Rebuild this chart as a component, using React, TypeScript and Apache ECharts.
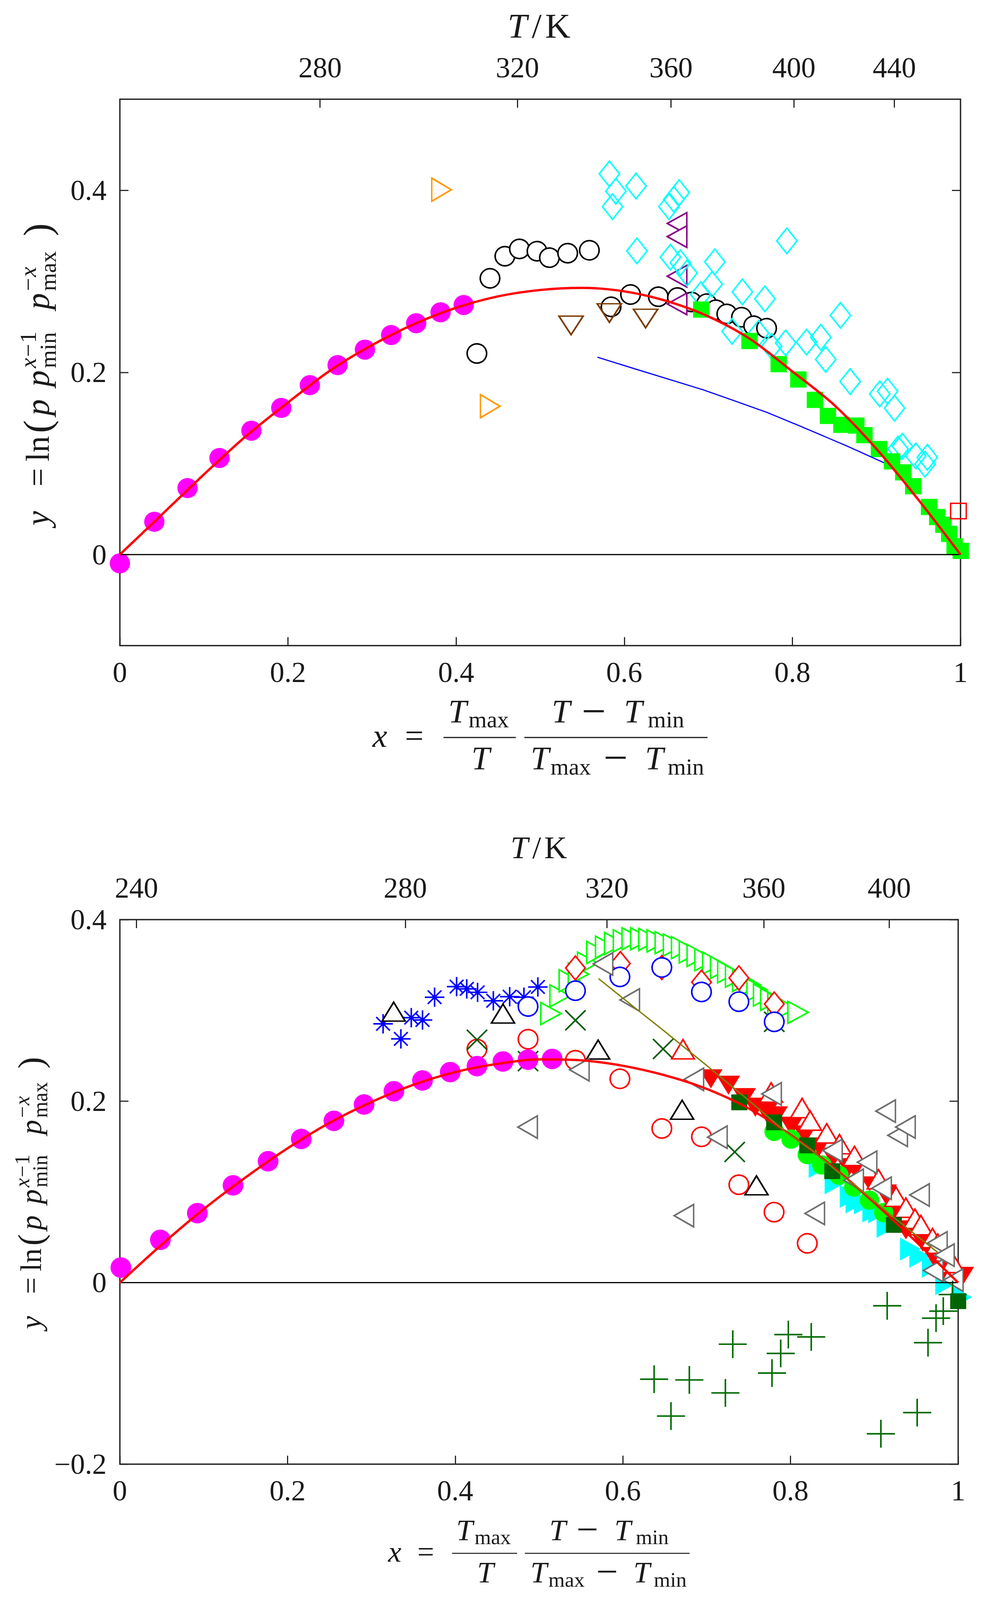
import React, { useEffect, useRef } from 'react';
import * as echarts from 'echarts';

// ---------------- axis ticks ----------------
const X_TICKS = [0, 0.2, 0.4, 0.6, 0.8, 1];
const TOP_Y_TICKS = [0, 0.2, 0.4];
const BOT_Y_TICKS = [-0.2, 0, 0.2, 0.4];
const TOP_T_TICKS = [280, 320, 360, 400, 440];
const BOT_T_TICKS = [240, 280, 320, 360, 400];
const TOP_T_MIN = 248.5;
const TOP_T_MAX = 471;
const BOT_T_MIN = 237.9;
const BOT_T_MAX = 426;

// ---------------- top panel data ----------------
const topCurveX = [0, 0.05, 0.1, 0.15, 0.2, 0.25, 0.3, 0.35, 0.4, 0.45, 0.5, 0.55, 0.6, 0.65, 0.7, 0.75, 0.8, 0.85, 0.9, 0.95, 1];
const topCurveY = [0, 0.044, 0.088, 0.13, 0.167, 0.202, 0.23, 0.253, 0.271, 0.2835, 0.2905, 0.2928, 0.289, 0.2785, 0.2615, 0.2365, 0.201, 0.164, 0.116, 0.06, 0];
const topMagentaX = [0, 0.041, 0.0805, 0.1185, 0.1565, 0.192, 0.226, 0.259, 0.2915, 0.3227, 0.3525, 0.3815, 0.409];
const topMagentaY = [-0.0097, 0.036, 0.073, 0.106, 0.136, 0.161, 0.186, 0.208, 0.225, 0.241, 0.254, 0.266, 0.274];
const topBlackX = [0.4247, 0.4403, 0.458, 0.4753, 0.4962, 0.511, 0.5327, 0.5585, 0.5843, 0.6075, 0.6405, 0.6633, 0.68, 0.698, 0.709, 0.722, 0.7395, 0.754, 0.7693];
const topBlackY = [0.2208, 0.3033, 0.3276, 0.3356, 0.3331, 0.326, 0.3309, 0.3341, 0.272, 0.2855, 0.2831, 0.2822, 0.2773, 0.2755, 0.2688, 0.2642, 0.2606, 0.2512, 0.2485];
const topOrangeX = [0.3826, 0.4405];
const topOrangeY = [0.4006, 0.1629];
const topBrownX = [0.5367, 0.5823, 0.6254];
const topBrownY = [0.2516, 0.2652, 0.2592];
const topPurpleX = [0.6628, 0.6628, 0.6628, 0.6628];
const topPurpleY = [0.3636, 0.3491, 0.3056, 0.2752];
const topCyanX = [0.5823, 0.59, 0.586, 0.614, 0.6532, 0.659, 0.6653, 0.6151, 0.6549, 0.6667, 0.6746, 0.6911, 0.7046, 0.7077, 0.7283, 0.7405, 0.7598, 0.7673, 0.7753, 0.792, 0.7934, 0.8168, 0.8338, 0.8396, 0.8572, 0.8687, 0.9039, 0.9132, 0.9215, 0.9257, 0.9309, 0.9468, 0.9578, 0.9605];
const topCyanY = [0.418, 0.399, 0.382, 0.4046, 0.382, 0.39, 0.3974, 0.3334, 0.3266, 0.3204, 0.3091, 0.2855, 0.2968, 0.3214, 0.2451, 0.2884, 0.243, 0.2808, 0.2286, 0.2324, 0.3444, 0.2333, 0.2385, 0.2143, 0.2627, 0.19, 0.1764, 0.1794, 0.1607, 0.1159, 0.1189, 0.1083, 0.0993, 0.1068];
const topGreenX = [0.6916, 0.749, 0.7837, 0.8071, 0.8268, 0.8423, 0.8583, 0.876, 0.8857, 0.903, 0.9185, 0.9319, 0.9437, 0.9626, 0.9723, 0.9796, 0.9865, 0.993, 1.0003];
const topGreenY = [0.269, 0.2345, 0.2091, 0.1922, 0.1698, 0.1522, 0.1425, 0.1416, 0.1311, 0.1159, 0.1023, 0.0902, 0.075, 0.0523, 0.0411, 0.0327, 0.0227, 0.0091, 0.004];
const topRedSqX = [0.9975];
const topRedSqY = [0.0478];
const topBlueX = [0.568, 0.613, 0.6934, 0.7308, 0.7702, 0.8054, 0.8386, 0.8655, 0.909];
const topBlueY = [0.2167, 0.2038, 0.181, 0.1689, 0.1559, 0.1425, 0.1295, 0.1189, 0.1008];

// ---------------- bottom panel data ----------------
const botCurveX = [0, 0.05, 0.1, 0.15, 0.2, 0.25, 0.3, 0.35, 0.4, 0.45, 0.5, 0.55, 0.6, 0.65, 0.7, 0.75, 0.8, 0.85, 0.9, 0.95, 1];
const botCurveY = [0, 0.042, 0.081, 0.116, 0.148, 0.176, 0.199, 0.218, 0.232, 0.241, 0.246, 0.245, 0.239, 0.2285, 0.2135, 0.192, 0.163, 0.128, 0.088, 0.045, 0];
const botMagentaX = [0.0012, 0.0483, 0.0924, 0.135, 0.1768, 0.2164, 0.2553, 0.2913, 0.3269, 0.361, 0.3941, 0.426, 0.457, 0.4869, 0.5157];
const botMagentaY = [0.0166, 0.0472, 0.0766, 0.1072, 0.1338, 0.1583, 0.1783, 0.1963, 0.2109, 0.2228, 0.232, 0.2386, 0.2437, 0.2457, 0.2465];
const botStarX = [0.314, 0.3352, 0.3476, 0.361, 0.3754, 0.4017, 0.4138, 0.4267, 0.4455, 0.465, 0.482, 0.4986];
const botStarY = [0.2852, 0.2686, 0.292, 0.2894, 0.3145, 0.3262, 0.3237, 0.3199, 0.3106, 0.3151, 0.3145, 0.3258];
const botBlackTriX = [0.3266, 0.457, 0.5705, 0.6707, 0.7594];
const botBlackTriY = [0.2986, 0.2965, 0.2568, 0.1905, 0.1072];
const botRedCircX = [0.426, 0.4869, 0.5434, 0.5965, 0.6465, 0.6938, 0.7384, 0.7804, 0.82];
const botRedCircY = [0.2574, 0.2682, 0.2451, 0.2246, 0.1699, 0.1607, 0.1079, 0.0777, 0.0433];
const botCrossX = [0.426, 0.4869, 0.5434, 0.648, 0.7334, 0.7806];
const botCrossY = [0.2676, 0.2441, 0.2891, 0.2575, 0.144, 0.2874];
const botLimeX = [0.5142, 0.5251, 0.5361, 0.547, 0.558, 0.569, 0.5795, 0.5902, 0.6007, 0.6111, 0.6214, 0.6311, 0.6409, 0.6506, 0.6604, 0.6701, 0.6794, 0.6887, 0.698, 0.7073, 0.7166, 0.7252, 0.7345, 0.743, 0.7516, 0.7601, 0.7679, 0.7764, 0.785, 0.7943, 0.809];
const botLimeY = [0.2965, 0.316, 0.3326, 0.34, 0.352, 0.3639, 0.3697, 0.3737, 0.3766, 0.3789, 0.3789, 0.3782, 0.3766, 0.3746, 0.372, 0.3691, 0.3644, 0.3605, 0.3558, 0.352, 0.3472, 0.3425, 0.3377, 0.333, 0.3283, 0.3226, 0.3169, 0.3121, 0.3073, 0.3026, 0.2978];
const botRedDiamX = [0.5434, 0.597, 0.6465, 0.6938, 0.7384, 0.7806];
const botRedDiamY = [0.3467, 0.3516, 0.3473, 0.3311, 0.3358, 0.307];
const botBlueCircX = [0.4869, 0.5434, 0.5965, 0.6465, 0.6938, 0.7384, 0.7806];
const botBlueCircY = [0.3043, 0.3217, 0.3369, 0.3473, 0.3203, 0.3096, 0.2874];
const botCyanX = [0.834, 0.853, 0.871, 0.878, 0.888, 0.898, 0.905, 0.915, 0.943, 0.954, 0.969, 0.985, 1.004];
const botCyanY = [0.128, 0.11, 0.095, 0.089, 0.088, 0.079, 0.078, 0.062, 0.037, 0.029, 0.018, -0.001, -0.016];
const botRedFillX = [0.705, 0.726, 0.745, 0.758, 0.771, 0.783, 0.801, 0.817, 0.834, 0.851, 0.869, 0.8777, 0.8944, 0.9131, 0.925, 0.9376, 0.9578, 0.97, 0.9826, 1.005];
const botRedFillY = [0.2247, 0.2177, 0.204, 0.1934, 0.188, 0.1839, 0.1725, 0.163, 0.1497, 0.1383, 0.1268, 0.125, 0.1115, 0.0979, 0.08, 0.0583, 0.0447, 0.03, 0.0142, 0.007];
const botGreenCircX = [0.7805, 0.8007, 0.82, 0.8374, 0.8577, 0.8755, 0.8941, 0.9112];
const botGreenCircY = [0.1667, 0.1582, 0.1411, 0.1297, 0.1185, 0.1054, 0.0909, 0.0772];
const botRedOpenX = [0.6717, 0.7769, 0.8138, 0.8234, 0.8432, 0.8584, 0.8763, 0.89, 0.905, 0.9259, 0.9376, 0.9485, 0.9555, 0.9694, 0.9756, 0.9935];
const botRedOpenY = [0.2572, 0.2095, 0.1924, 0.1786, 0.1645, 0.1526, 0.1396, 0.127, 0.1139, 0.0947, 0.0826, 0.0704, 0.0634, 0.0491, 0.043, 0.0217];
const botDarkSqX = [0.7389, 0.7805, 0.82, 0.8498, 0.9233, 1.0];
const botDarkSqY = [0.1987, 0.1766, 0.1512, 0.1228, 0.0636, -0.0204];
const botGreyX = [0.4864, 0.5481, 0.5763, 0.6082, 0.6728, 0.6847, 0.7128, 0.7774, 0.8289, 0.85, 0.8753, 0.8913, 0.9086, 0.9135, 0.9278, 0.9371, 0.9539, 0.9702, 0.9752, 0.9836, 0.9942];
const botGreyY = [0.1714, 0.2346, 0.3512, 0.3115, 0.0738, 0.224, 0.1603, 0.208, 0.0763, 0.1456, 0.1128, 0.1327, 0.104, 0.189, 0.1623, 0.1715, 0.0966, 0.0134, 0.0438, 0.0303, 0.0028];
const botPlusX = [0.6373, 0.6574, 0.6793, 0.7223, 0.7311, 0.7779, 0.7883, 0.7974, 0.8247, 0.9078, 0.9153, 0.9511, 0.964, 0.9736, 0.9822, 0.9934];
const botPlusY = [-0.1064, -0.147, -0.1072, -0.1215, -0.0678, -0.0996, -0.078, -0.0572, -0.0598, -0.1665, -0.0255, -0.1432, -0.0661, -0.0391, -0.0314, -0.0131];
const botOliveX = [0.571, 0.6, 0.621, 0.649, 0.703, 0.75, 0.793, 0.826, 0.865, 0.888, 0.922, 0.976];
const botOliveY = [0.335, 0.3135, 0.298, 0.2775, 0.237, 0.201, 0.167, 0.1456, 0.1155, 0.099, 0.0727, 0.033];
const zeroX = [0, 1];
const zeroY = [0, 0];

// ---------------- styling ----------------
const PAGE_W = 2515;
const PAGE_H = 4146;
const FONT = "'Liberation Serif', 'Times New Roman', serif";
const AX = '#262626';
const LBL = '#1a1a1a';
const TRI_UP = 'path://M5,0L10,10L0,10Z';
const TRI_DOWN = 'path://M0,0L10,0L5,10Z';
const TRI_LEFT = 'path://M0,5L10,0L10,10Z';
const TRI_RIGHT = 'path://M0,0L10,5L0,10Z';
const PLUS = 'path://M0,5L10,5M5,0L5,10';
const CROSS = 'path://M0,0L10,10M0,10L10,0';
const STAR = 'path://M0,5L10,5M5,0L5,10M1.5,1.5L8.5,8.5M1.5,8.5L8.5,1.5';

const xOfT = (t: number, tmin: number, tmax: number) => (tmax / t) * (t - tmin) / (tmax - tmin);
const topTPos = TOP_T_TICKS.map((t) => xOfT(t, TOP_T_MIN, TOP_T_MAX));
const botTPos = BOT_T_TICKS.map((t) => xOfT(t, BOT_T_MIN, BOT_T_MAX));

const pairs = (xs: number[], ys: number[]) => xs.map((x, i) => [x, ys[i]]);

function sc(ax: number, xs: number[], ys: number[], symbol: string, size: any, fill: string, stroke: string, bw: number) {
  return {
    type: 'scatter', xAxisIndex: ax, yAxisIndex: ax, data: pairs(xs, ys), symbol, symbolSize: size,
    clip: false, silent: true, emphasis: { disabled: true },
    itemStyle: { color: fill, borderColor: stroke, borderWidth: bw, opacity: 1 },
  };
}
function ln(ax: number, xs: number[], ys: number[], color: string, width: number, smooth: any = false) {
  return {
    type: 'line', xAxisIndex: ax, yAxisIndex: ax, data: pairs(xs, ys), showSymbol: false, symbol: 'none',
    smooth, clip: false, silent: true, emphasis: { disabled: true }, lineStyle: { color, width },
  };
}

function fmtNum(v: number) {
  const r = Math.round(v * 10) / 10;
  if (Math.abs(r) < 1e-9) return '0';
  if (Math.abs(r - 1) < 1e-9) return '1';
  return (r < 0 ? '\u2212' : '') + Math.abs(r).toFixed(1);
}
function tLabel(ticks: number[], pos: number[]) {
  return (v: number) => {
    for (let i = 0; i < pos.length; i++) if (Math.abs(pos[i] - v) < 1e-6) return String(ticks[i]);
    return '';
  };
}

function xAxisPair(grid: number, tPos: number[], tTicks: number[]) {
  const line = { show: true, onZero: false, lineStyle: { color: AX, width: 3.5 } };
  return [
    {
      gridIndex: grid, type: 'value', min: 0, max: 1, position: 'bottom', axisLine: line,
      axisTick: { show: true, inside: true, length: 22, lineStyle: { color: AX, width: 3 }, customValues: X_TICKS },
      axisLabel: { show: true, customValues: X_TICKS, formatter: fmtNum, fontSize: 74, fontFamily: FONT, color: LBL, margin: 32 },
      splitLine: { show: false },
    },
    {
      gridIndex: grid, type: 'value', min: 0, max: 1, position: 'top', axisLine: line,
      axisTick: { show: true, inside: true, length: 22, lineStyle: { color: AX, width: 3 }, customValues: tPos },
      axisLabel: { show: true, customValues: tPos, formatter: tLabel(tTicks, tPos), fontSize: 74, fontFamily: FONT, color: LBL, margin: 45 },
      splitLine: { show: false },
    },
  ];
}
function yAxisPair(grid: number, min: number, max: number, ticks: number[]) {
  const line = { show: true, onZero: false, lineStyle: { color: AX, width: 3.5 } };
  return [
    {
      gridIndex: grid, type: 'value', min, max, position: 'left', axisLine: line,
      axisTick: { show: true, inside: true, length: 22, lineStyle: { color: AX, width: 3 }, customValues: ticks },
      axisLabel: { show: true, customValues: ticks, formatter: fmtNum, fontSize: 74, fontFamily: FONT, color: LBL, margin: 34 },
      splitLine: { show: false },
    },
    {
      gridIndex: grid, type: 'value', min, max, position: 'right', axisLine: line,
      axisTick: { show: true, inside: true, length: 22, lineStyle: { color: AX, width: 3 }, customValues: ticks },
      axisLabel: { show: false },
      splitLine: { show: false },
    },
  ];
}

// ---------------- formula text helpers ----------------
function tx(text: string, x: number, baseline: number, size: number, italic = false, align = 'left') {
  return {
    type: 'text', x, y: baseline - 0.3375 * size, silent: true,
    style: {
      text, font: `${italic ? 'italic ' : ''}${size}px ${FONT}`, fill: LBL,
      align, verticalAlign: 'middle', textAlign: align, textVerticalAlign: 'middle',
    },
  };
}
// a wider minus sign (TeX style): enlarged glyph, kept on the same math axis
function minus(x: number, baseline: number, size: number) {
  const big = size * 1.3;
  return tx('\u2212', x, baseline + 0.25 * (big - size), big, false, 'center');
}
function bar(x: number, y: number, w: number, s: number) {
  return { type: 'rect', silent: true, shape: { x, y: y - 1.5 * s, width: w, height: 3 * s }, style: { fill: LBL } };
}
function xLabel(x0: number, by: number, s: number) {
  const F = 85 * s, f = 60 * s;
  const X = (v: number) => x0 + v * s;
  const Y = (v: number) => by + v * s;
  return [
    tx('x', X(0), Y(24), F, true),
    tx('=', X(107), Y(24), F, false, 'center'),
    bar(X(182), by, 185 * s, s),
    tx('T', X(194), Y(-38), F, true),
    tx('max', X(246), Y(-26), f),
    tx('T', X(277), Y(83), F, true, 'center'),
    bar(X(389), by, 469 * s, s),
    tx('T', X(459), Y(-38), F, true),
    minus(X(567), Y(-38), F),
    tx('T', X(644), Y(-38), F, true),
    tx('min', X(705), Y(-26), f),
    tx('T', X(405), Y(83), F, true),
    tx('max', X(456), Y(96), f),
    minus(X(623), Y(83), F),
    tx('T', X(698), Y(83), F, true),
    tx('min', X(756), Y(96), f),
  ];
}
function yLabel(bx: number, by: number, s: number) {
  const F = 85 * s, f = 60 * s, P = 100 * s;
  const U = (v: number) => v * s;
  return {
    type: 'group', x: bx, y: by, rotation: Math.PI / 2, silent: true,
    children: [
      tx('y', 0, 0, F, true),
      tx('=', U(125), 0, F, false, 'center'),
      tx('ln', U(166), 0, F),
      tx('(', U(240), U(4), P),
      tx('p', U(285), 0, F, true),
      tx('p', U(360), 0, F, true),
      tx('min', U(408), U(18), f),
      tx('x', U(408), U(-33), f, true),
      tx('\u2212', U(437), U(-33), f),
      tx('1', U(473), U(-33), f),
      tx('p', U(560), 0, F, true),
      tx('max', U(608), U(18), f),
      tx('\u2212', U(608), U(-33), f),
      tx('x', U(644), U(-33), f, true),
      tx(')', U(750), U(4), P),
    ],
  };
}
function tkLabel(cx: number, base: number, s: number) {
  const F = 90 * s;
  return [
    tx('T', cx - 84 * s, base, F, true),
    tx('/', cx - 22 * s, base, F),
    tx('K', cx + 12 * s, base, F),
  ];
}

function buildOption() {
  const series: any[] = [
    // top panel
    ln(0, zeroX, zeroY, '#000', 3),
    ln(0, topCurveX, topCurveY, '#FF0000', 6, 0.3),
    ln(0, topBlueX, topBlueY, '#0000FF', 3),
    sc(0, topMagentaX, topMagentaY, 'circle', 52, '#FF00FF', '#FF00FF', 0),
    sc(0, topBlackX, topBlackY, 'circle', 50, '#FFFFFF', '#000000', 4),
    sc(0, topOrangeX, topOrangeY, TRI_RIGHT, [50, 60], 'none', '#FF9900', 4),
    sc(0, topBrownX, topBrownY, TRI_DOWN, [62, 48], 'none', '#7D3C00', 4),
    sc(0, topPurpleX, topPurpleY, TRI_LEFT, [50, 56], '#FFFFFF', '#880088', 4),
    sc(0, topCyanX, topCyanY, 'diamond', [52, 66], 'none', '#00FFFF', 4),
    sc(0, topGreenX, topGreenY, 'rect', 42, '#00FF00', '#00FF00', 0),
    sc(0, topRedSqX, topRedSqY, 'rect', 40, 'none', '#FF0000', 3.5),
    // bottom panel
    ln(2, zeroX, zeroY, '#000', 3),
    ln(2, botCurveX, botCurveY, '#FF0000', 6, 0.3),
    sc(2, botStarX, botStarY, STAR, 50, 'none', '#0000FF', 4),
    sc(2, botBlackTriX, botBlackTriY, TRI_UP, [59, 49], '#FFFFFF', '#000000', 4),
    sc(2, botRedCircX, botRedCircY, 'circle', 50, 'none', '#FF0000', 4),
    sc(2, botCrossX, botCrossY, CROSS, 52, 'none', '#005A00', 4),
    sc(2, botMagentaX, botMagentaY, 'circle', 53, '#FF00FF', '#FF00FF', 0),
    sc(2, botLimeX, botLimeY, TRI_RIGHT, [52, 57], '#FFFFFF', '#00FF00', 4),
    sc(2, botRedDiamX, botRedDiamY, 'diamond', [50, 62], '#FFFFFF', '#FF0000', 4),
    sc(2, botBlueCircX, botBlueCircY, 'circle', 50, '#FFFFFF', '#0000FF', 4),
    sc(2, botCyanX, botCyanY, TRI_RIGHT, [52, 58], '#00FFFF', '#00FFFF', 1),
    sc(2, botRedFillX, botRedFillY, TRI_DOWN, [58, 48], '#FF0000', '#FF0000', 1),
    sc(2, botGreenCircX, botGreenCircY, 'circle', 50, '#00FF00', '#00FF00', 0),
    sc(2, botRedOpenX, botRedOpenY, TRI_UP, [58, 50], '#FFFFFF', '#FF0000', 4),
    sc(2, botDarkSqX, botDarkSqY, 'rect', 41, '#006400', '#006400', 0),
    sc(2, botGreyX, botGreyY, TRI_LEFT, [50, 58], '#FFFFFF', '#6E6E6E', 4),
    sc(2, botPlusX, botPlusY, PLUS, 72, 'none', '#006A00', 4),
    ln(2, botOliveX, botOliveY, '#808000', 3.5),
  ];

  const graphic: any[] = [
    ...xLabel(954, 1911, 1),
    ...xLabel(994, 4025, 0.9),
    yLabel(125, 1362, 1),
    yLabel(105, 3444, 0.9),
    ...tkLabel(1384, 97, 1),
    ...tkLabel(1383, 2223, 0.9),
  ];

  return {
    animation: false,
    backgroundColor: '#FFFFFF',
    grid: [
      { left: 307, top: 257, width: 2153, height: 1416, containLabel: false },
      { left: 307, top: 2383, width: 2147, height: 1411, containLabel: false },
    ],
    xAxis: [...xAxisPair(0, topTPos, TOP_T_TICKS), ...xAxisPair(1, botTPos, BOT_T_TICKS)],
    yAxis: [...yAxisPair(0, -0.1, 0.5, TOP_Y_TICKS), ...yAxisPair(1, -0.2, 0.4, BOT_Y_TICKS)],
    series,
    graphic: { elements: graphic },
  };
}

export default function App() {
  const ref = useRef<HTMLDivElement>(null);
  useEffect(() => {
    const html = document.documentElement;
    html.style.overflow = 'hidden';
    document.body.style.margin = '0';
    document.body.style.overflow = 'hidden';
    const el = ref.current as HTMLDivElement;
    // fit the fixed-size drawing into the visible viewport (no scrollbars, nothing cut)
    const vw = html.clientWidth || window.innerWidth || PAGE_W;
    const vh = html.clientHeight || window.innerHeight || PAGE_H;
    const sx = Math.min(1, vw / PAGE_W);
    const sy = Math.min(1, vh / PAGE_H);
    el.style.transformOrigin = '0 0';
    el.style.transform = `scale(${sx}, ${sy})`;
    const chart = echarts.init(el, null, { renderer: 'svg' });
    chart.setOption(buildOption() as any);
    return () => chart.dispose();
  }, []);
  return <div ref={ref} style={{ width: PAGE_W, height: PAGE_H, background: '#fff' }} />;
}
